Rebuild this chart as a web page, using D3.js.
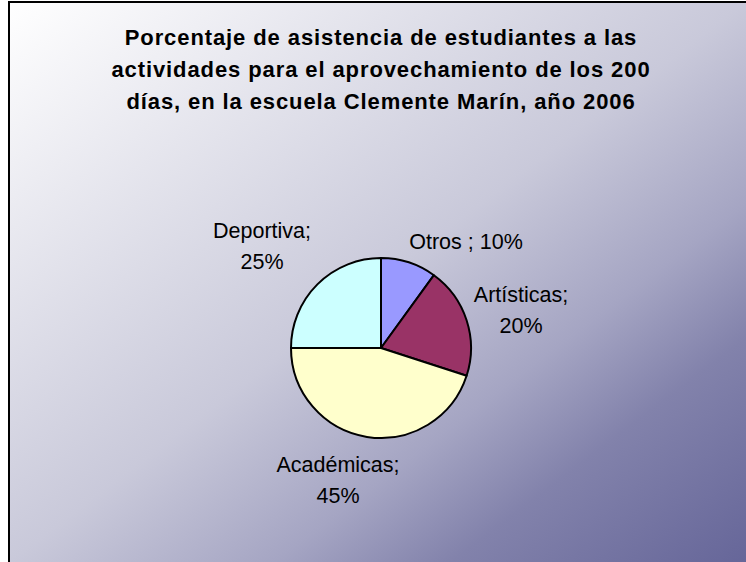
<!DOCTYPE html>
<html>
<head>
<meta charset="utf-8">
<script src="https://cdn.jsdelivr.net/npm/d3@7"></script>
<style>
  html, body { margin: 0; padding: 0; background: #fff; }
  svg { display: block; font-family: "Liberation Sans", Arial, sans-serif; }
</style>
</head>
<body>
<div id="chart"></div>
<script>
// data
const categories = ["Otros ", "Artísticas", "Académicas", "Deportiva"];
const percents = [10, 20, 45, 25];
const sliceColors = ["#9999FF", "#993366", "#FFFFCC", "#CCFFFF"];
const titleLines = [
  "Porcentaje de asistencia de estudiantes a las",
  "actividades para el aprovechamiento de los 200",
  "días, en la escuela Clemente Marín, año 2006"
];

const W = 746, H = 562;
const cx = 381, cy = 348, radius = 90;

// label block centres, relative to the pie centre (Excel moved them by hand)
const labelOffset = [[85, -107], [140, -38], [-43, 132], [-119, -102]];
const labelLines = [1, 2, 2, 2];

const svg = d3.select("#chart")
  .append("svg")
  .attr("width", W)
  .attr("height", H);

// background gradient, white -> dark lavender toward bottom right
const defs = svg.append("defs");
const grad = defs.append("linearGradient")
  .attr("id", "bg")
  .attr("x1", 0).attr("y1", 0)
  .attr("x2", 1).attr("y2", 1);
[[0, "#ffffff"], [0.5, "#c9c9da"], [0.68, "#a5a5c3"], [0.8, "#8282ab"], [1, "#666699"]]
  .forEach(s => grad.append("stop").attr("offset", s[0]).attr("stop-color", s[1]));

svg.append("rect")
  .attr("x", 9).attr("y", 2)
  .attr("width", W - 9).attr("height", H - 2)
  .attr("fill", "url(#bg)");

// chart area border (right / bottom edges fall outside the picture)
svg.append("rect")
  .attr("x", 9).attr("y", 2)
  .attr("width", W + 20).attr("height", H + 20)
  .attr("fill", "none")
  .attr("stroke", "#000")
  .attr("stroke-width", 2);

// title
svg.append("g")
  .selectAll("text")
  .data(titleLines)
  .join("text")
  .attr("x", cx)
  .attr("y", (d, i) => 45 + i * 32)
  .attr("text-anchor", "middle")
  .attr("font-size", 22)
  .attr("font-weight", "bold")
  .attr("letter-spacing", 0.9)
  .attr("fill", "#000")
  .text(d => d);

// pie
const pie = d3.pie().sort(null).value(d => d.value);
const arc = d3.arc().innerRadius(0).outerRadius(radius);
const slices = pie(categories.map((c, i) => ({ name: c, value: percents[i], i })));

const g = svg.append("g").attr("transform", `translate(${cx},${cy})`);

g.selectAll("path")
  .data(slices)
  .join("path")
  .attr("d", arc)
  .attr("fill", d => sliceColors[d.data.i])
  .attr("stroke", "#000")
  .attr("stroke-width", 2)
  .attr("stroke-linejoin", "round");

// data labels
const lineH = 30.5;
const labels = g.selectAll("g.lbl")
  .data(slices)
  .join("g")
  .attr("class", "lbl")
  .attr("transform", d => `translate(${labelOffset[d.data.i][0]},${labelOffset[d.data.i][1]})`);

labels.each(function(d) {
  const k = d.data.i;
  const pct = d.data.value + "%";
  const lines = labelLines[k] === 1 ? [d.data.name + "; " + pct] : [d.data.name + ";", pct];
  d3.select(this).selectAll("text")
    .data(lines)
    .join("text")
    .attr("x", 0)
    .attr("y", (t, j) => (j - (lines.length - 1) / 2) * lineH)
    .attr("dy", "0.35em")
    .attr("text-anchor", "middle")
    .attr("font-size", 21.5)
    .attr("fill", "#000")
    .text(t => t);
});
</script>
</body>
</html>
